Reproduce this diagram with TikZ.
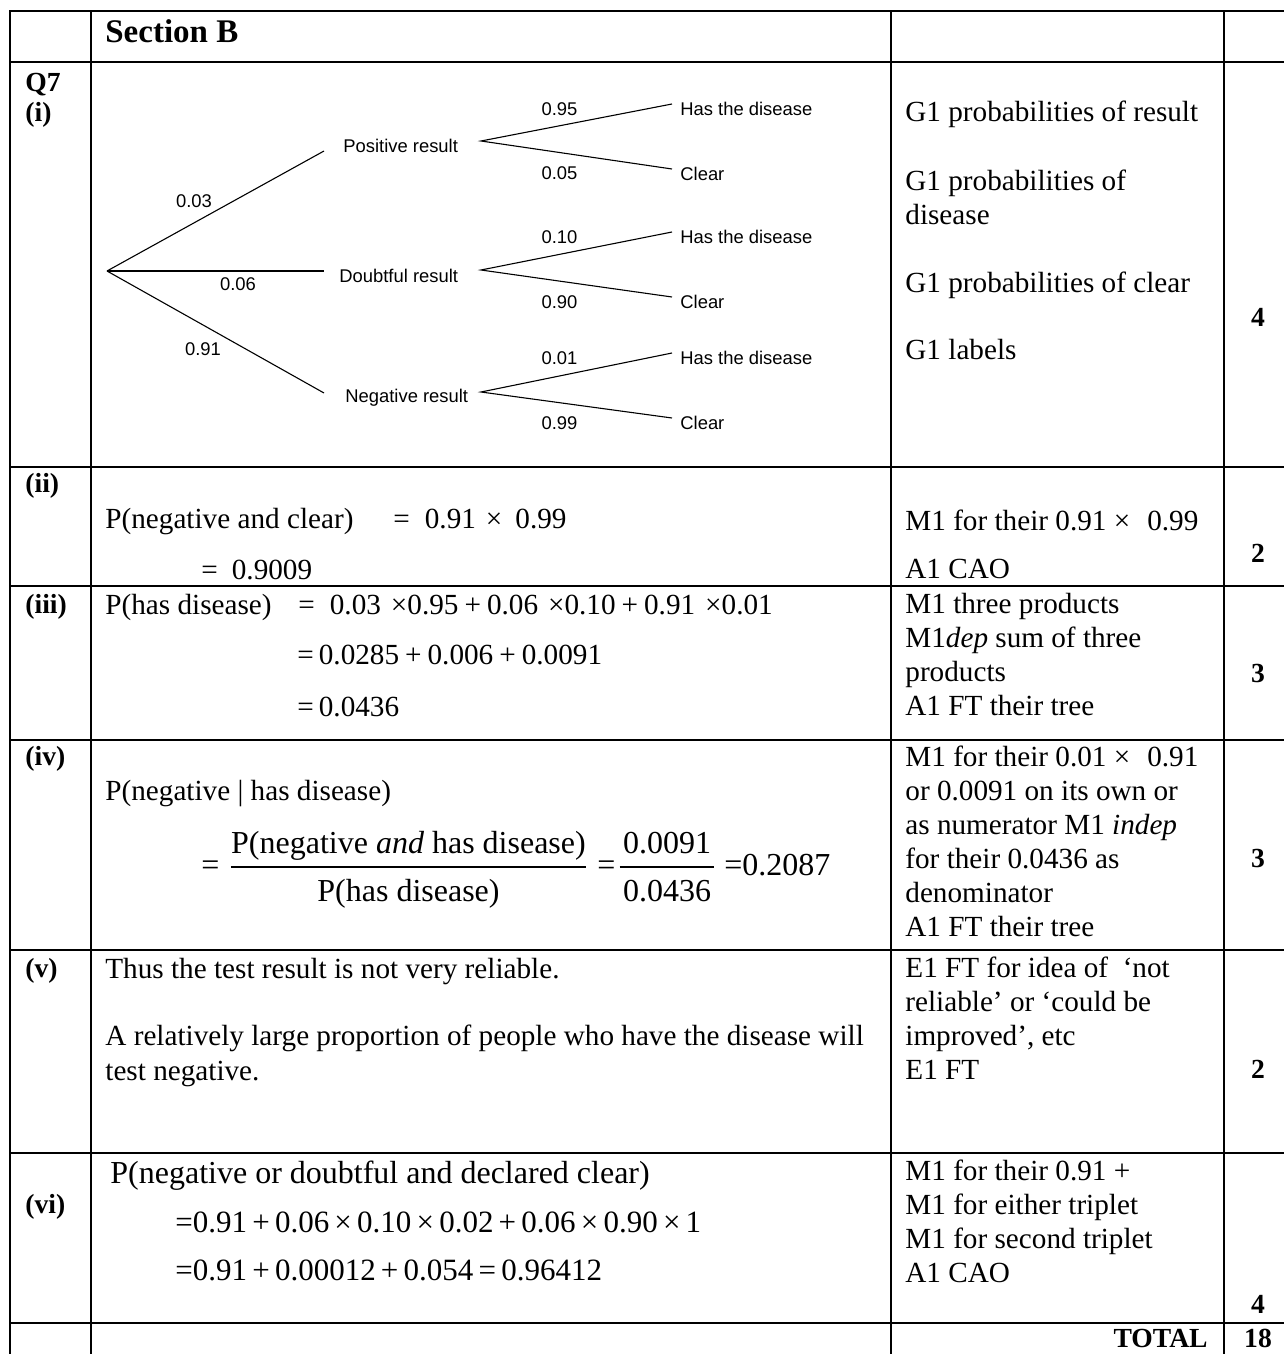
\documentclass[tikz,border=0pt]{standalone}
\usepackage{fontspec}
\setmainfont{Liberation Serif}
\newfontfamily\arialf{Liberation Sans}
\usetikzlibrary{calc}
\begin{document}
\begin{tikzpicture}[x=0.5pt,y=-0.5pt,
  grid/.style={line width=1pt,line cap=rect},
  br/.style={line width=0.55pt},
  bar/.style={line width=0.75pt},
  ans/.style={anchor=base west,inner sep=0pt,font=\fontsize{14.6}{17}\selectfont},
  big/.style={inner sep=0pt,font=\fontsize{16}{19}\selectfont},
  eqn/.style={anchor=base west,inner sep=0pt,font=\fontsize{15.5}{18}\selectfont},
  lbl/.style={anchor=base west,inner sep=0pt,font=\fontsize{13.8}{16}\selectfont\bfseries},
  mk/.style={anchor=base,inner sep=0pt,font=\fontsize{13.8}{16}\selectfont\bfseries},
  tr/.style={inner sep=0pt,font=\arialf\fontsize{9.2}{11}\selectfont},
]
\useasboundingbox (0,0) rectangle (1284,1354);
% grid
\foreach \y in {11,62,467,586,740,950,1153,1323} \draw[grid] (10,\y) -- (1284,\y);
\foreach \x in {10,91,891,1224} \draw[grid] (\x,11) -- (\x,1354);

% header
\node[lbl,font=\fontsize{16.5}{19}\selectfont\bfseries] (secB) at (105,43) {Section B};
\node[lbl] (q7) at (25,91) {Q7};
\node[lbl] (li) at (25,121) {(i)};

% tree
\coordinate (root) at (107,271);
\node[tr,anchor=base west] (pos) at (343,152) {Positive result};
\node[tr,anchor=base west] (dbt) at (339,282) {Doubtful result};
\node[tr,anchor=base west] (neg) at (345,402) {Negative result};
\draw[br] (root) -- ($(pos.base west)+(-19,-1)$);
\draw[br] (root) -- ($(dbt.base west)+(-15,-11)$);
\draw[br] (root) -- ($(neg.base west)+(-21,-9)$);
\node[tr,anchor=base] (l03) at (194,207.6) {0.03};
\node[tr,anchor=base] (l06) at (238,290.6) {0.06};
\node[tr,anchor=base] (l91) at (203,355.6) {0.91};

\node[tr,anchor=base west] (hasP) at (680,115.6) {Has the disease};
\node[tr,anchor=base west] (clrP) at (680,180.6) {Clear};
\node[tr,anchor=base west] (hasD) at (680,243.6) {Has the disease};
\node[tr,anchor=base west] (clrD) at (680,308.6) {Clear};
\node[tr,anchor=base west] (hasN) at (680,364.6) {Has the disease};
\node[tr,anchor=base west] (clrN) at (680,429.6) {Clear};
\draw[br] ($(hasP.base west)+(-8,-11.6)$) -- ($(pos.base west)+(138,-11)$) -- ($(clrP.base west)+(-8,-11.6)$);
\draw[br] ($(hasD.base west)+(-8,-11.6)$) -- ($(dbt.base west)+(142,-12)$) -- ($(clrD.base west)+(-8,-11.6)$);
\draw[br] ($(hasN.base west)+(-8,-11.6)$) -- ($(neg.base west)+(136,-10)$) -- ($(clrN.base west)+(-8,-11.6)$);
\node[tr,anchor=base] (l95) at (559.5,115.6) {0.95};
\node[tr,anchor=base] (l05) at (559.5,179.6) {0.05};
\node[tr,anchor=base] (l10) at (559.5,243.6) {0.10};
\node[tr,anchor=base] (l90) at (559.5,308.6) {0.90};
\node[tr,anchor=base] (l01) at (559.5,364.6) {0.01};
\node[tr,anchor=base] (l99) at (559.5,429.6) {0.99};

% marks (i)
\node[ans] (m1a) at (905,122) {G1 probabilities of result};
\node[ans] (m1b) at (905,190) {G1 probabilities of};
\node[ans] (m1c) at (905,224) {disease};
\node[ans] (m1d) at (905,292) {G1 probabilities of clear};
\node[ans] (m1e) at (905,359) {G1 labels};
\node[mk] (k1) at (1258,326) {4};

% (ii)
\node[lbl] (lii) at (25,492) {(ii)};
\node[ans] (a2a) at (105,528) {P(negative and clear)};
\node[ans] (a2b) at (393,528) {=\hspace{7.5pt}0.91\hspace{5pt}×\hspace{6.5pt}0.99};
\node[ans] (a2c) at (201,579) {=\hspace{7pt}0.9009};
\node[ans] (m2a) at (905,530) {M1 for their 0.91 ×\hspace{8.5pt}0.99};
\node[ans] (m2b) at (905,578) {A1 CAO};
\node[mk] (k2) at (1258,562) {2};

% (iii)
\node[lbl] (liii) at (25,613) {(iii)};
\node[ans] (a3a) at (105,614) {P(has disease)};
\node[ans] (a3b) at (298,614) {=\hspace{7.5pt}0.03\hspace{5pt}×0.95\hspace{3pt}+\hspace{3pt}0.06\hspace{5pt}×0.10\hspace{3pt}+\hspace{3pt}0.91\hspace{5pt}×0.01};
\node[ans] (a3c) at (297,664) {=\hspace{2.5pt}0.0285\hspace{3pt}+\hspace{3pt}0.006\hspace{3pt}+\hspace{3pt}0.0091};
\node[ans] (a3d) at (297,716) {=\hspace{2.5pt}0.0436};
\node[ans] (m3a) at (905,613) {M1 three products};
\node[ans] (m3b) at (905,647) {M1\textit{dep} sum of three};
\node[ans] (m3c) at (905,681) {products};
\node[ans] (m3d) at (905,715) {A1 FT their tree};
\node[mk] (k3) at (1258,682) {3};

% (iv)
\node[lbl] (liv) at (25,765) {(iv)};
\node[ans] (a4a) at (105,800) {P(negative | has disease)};
\node[big,anchor=base west] (e4a) at (201,875) {=};
\node[big,anchor=base] (num1) at (408.5,853) {P(negative \textit{and} has disease)};
\node[big,anchor=base] (den1) at (408.5,901) {P(has disease)};
\draw[bar] ($(num1.base west)+(0,14)$) -- ($(num1.base east)+(0,14)$);
\node[big,anchor=base west] (e4b) at (597,875) {=};
\node[big,anchor=base] (num2) at (667,853) {0.0091};
\node[big,anchor=base] (den2) at (667,901) {0.0436};
\draw[bar] ($(num2.base west)+(-3,14)$) -- ($(num2.base east)+(3,14)$);
\node[big,anchor=base west] (e4c) at (724,875) {=0.2087};
\node[ans] (m4a) at (905,766) {M1 for their 0.01 ×\hspace{8.5pt}0.91};
\node[ans] (m4b) at (905,800) {or 0.0091 on its own or};
\node[ans] (m4c) at (905,834) {as numerator M1 \textit{indep}};
\node[ans] (m4d) at (905,868) {for their 0.0436 as};
\node[ans] (m4e) at (905,902) {denominator};
\node[ans] (m4f) at (905,936) {A1 FT their tree};
\node[mk] (k4) at (1258,867) {3};

% (v)
\node[lbl] (lv) at (25,977) {(v)};
\node[ans] (a5a) at (105,978) {Thus the test result is not very reliable.};
\node[ans] (a5b) at (105,1045) {A relatively large proportion of people who have the disease will};
\node[ans] (a5c) at (105,1080) {test negative.};
\node[ans] (m5a) at (905,977) {E1 FT for idea of \ ‘not};
\node[ans] (m5b) at (905,1011) {reliable’ or ‘could be};
\node[ans] (m5c) at (905,1045) {improved’, etc};
\node[ans] (m5d) at (905,1079) {E1 FT};
\node[mk] (k5) at (1258,1078) {2};

% (vi)
\node[lbl] (lvi) at (25,1213) {(vi)};
\node[big,anchor=base west] (a6a) at (110,1183) {P(negative or doubtful and declared clear)};
\node[eqn] (a6b) at (175,1232) {=0.91\hspace{2.6pt}+\hspace{2.6pt}0.06\hspace{2.6pt}×\hspace{2.6pt}0.10\hspace{2.6pt}×\hspace{2.6pt}0.02\hspace{2.6pt}+\hspace{2.6pt}0.06\hspace{2.6pt}×\hspace{2.6pt}0.90\hspace{2.6pt}×\hspace{2.6pt}1};
\node[eqn] (a6c) at (175,1280) {=0.91\hspace{2.6pt}+\hspace{2.6pt}0.00012\hspace{2.6pt}+\hspace{2.6pt}0.054\hspace{2.6pt}=\hspace{2.6pt}0.96412};
\node[ans] (m6a) at (905,1180) {M1 for their 0.91 +};
\node[ans] (m6b) at (905,1214) {M1 for either triplet};
\node[ans] (m6c) at (905,1248) {M1 for second triplet};
\node[ans] (m6d) at (905,1282) {A1 CAO};
\node[mk] (k6) at (1258,1313) {4};

% total
\node[mk,anchor=base east] (tot) at (1208,1347) {TOTAL};
\node[mk] (t18) at (1258,1347) {18};
\end{tikzpicture}
\end{document}
